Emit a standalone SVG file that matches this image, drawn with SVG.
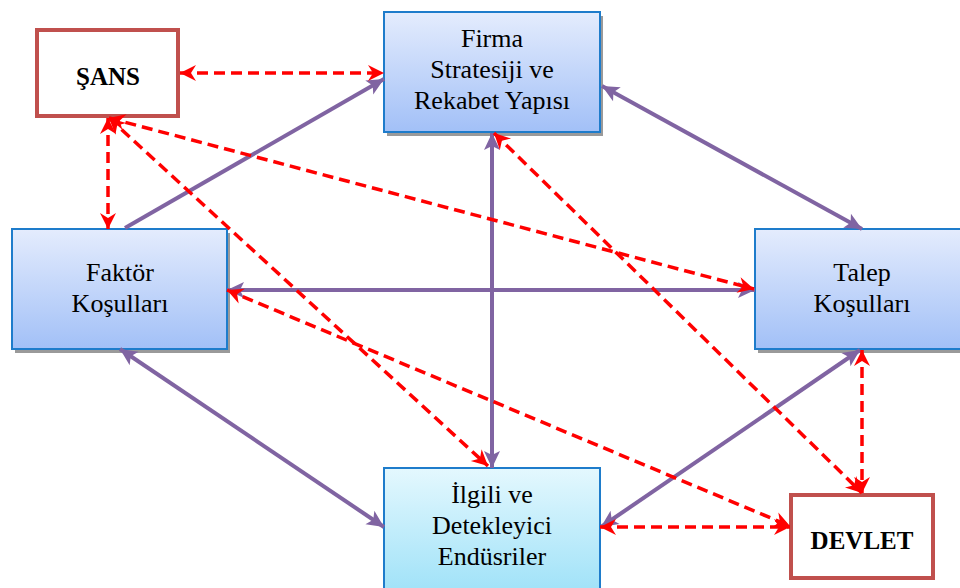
<svg xmlns="http://www.w3.org/2000/svg" width="960" height="588" viewBox="0 0 960 588">
<defs>
<linearGradient id="gBlue" x1="0" y1="0" x2="0" y2="1">
<stop offset="0" stop-color="#E4ECFD"/>
<stop offset="1" stop-color="#A2C0F7"/>
</linearGradient>
<linearGradient id="gCyan" x1="0" y1="0" x2="0" y2="1">
<stop offset="0" stop-color="#E4F8FE"/>
<stop offset="1" stop-color="#A0E2F8"/>
</linearGradient>
<marker id="mp" viewBox="-1 -9 20 18" refX="17" refY="0" markerWidth="20" markerHeight="18" markerUnits="userSpaceOnUse" orient="auto-start-reverse">
<path d="M0,-8 L17,0 L0,8 L4,0 Z" fill="#8064A2"/>
</marker>
<marker id="mr" viewBox="-1 -9 20 18" refX="16" refY="0" markerWidth="20" markerHeight="18" markerUnits="userSpaceOnUse" orient="auto-start-reverse">
<path d="M0,-8 L16,0 L0,8 L5,0 Z" fill="#FF0000"/>
</marker>
</defs>
<style>
.box{stroke:#1E7CCB;stroke-width:2}
.shadow{fill:#9A9A9A}
.red{fill:#FFFFFF;stroke:#C0504D;stroke-width:4}
.t{font-family:"Liberation Serif","Times New Roman",serif;font-size:26px;fill:#000;text-anchor:middle}
.b{font-weight:bold;font-size:25px}
.p{fill:none;stroke:#8064A2;stroke-width:4;marker-start:url(#mp);marker-end:url(#mp)}
.p1{fill:none;stroke:#8064A2;stroke-width:4;marker-end:url(#mp)}
.r{fill:none;stroke:#FF0000;stroke-width:3.5;stroke-dasharray:11 6;marker-start:url(#mr);marker-end:url(#mr)}
</style>
<rect width="960" height="588" fill="#FFFFFF"/>
<g id="firma">
<rect class="shadow" x="387" y="16" width="216" height="120"/>
<rect class="box" x="384" y="12" width="216" height="120" fill="url(#gBlue)"/>
<text class="t" x="492" y="47">Firma</text>
<text class="t" x="492" y="78">Stratesiji ve</text>
<text class="t" x="492" y="109">Rekabet Yapısı</text>
</g>
<g id="sans">
<rect class="red" x="37" y="30" width="141" height="86"/>
<text class="t b" x="108" y="85">ŞANS</text>
</g>
<g id="faktor">
<rect class="shadow" x="15" y="233" width="215" height="120"/>
<rect class="box" x="12" y="229" width="215" height="120" fill="url(#gBlue)"/>
<text class="t" x="120" y="281">Faktör</text>
<text class="t" x="120" y="312">Koşulları</text>
</g>
<g id="talep">
<rect class="shadow" x="758" y="233" width="215" height="120"/>
<rect class="box" x="755" y="229" width="215" height="120" fill="url(#gBlue)"/>
<text class="t" x="862" y="281">Talep</text>
<text class="t" x="862" y="312">Koşulları</text>
</g>
<g id="ilgili">
<rect class="box" x="384" y="468" width="216" height="124" fill="url(#gCyan)"/>
<text class="t" x="492" y="503">İlgili ve</text>
<text class="t" x="492" y="534">Detekleyici</text>
<text class="t" x="492" y="565">Endüsriler</text>
</g>
<g id="devlet">
<rect class="red" x="791" y="495" width="142" height="83"/>
<text class="t b" x="862" y="549">DEVLET</text>
</g>
<g id="connectors">
<path class="p1" d="M125,228 L384,79"/>
<path class="p" d="M602,86 L862,229"/>
<path class="p" d="M227,290 L755,290"/>
<path class="p" d="M492,133 L492,468"/>
<path class="p" d="M120,349 L384,527"/>
<path class="p" d="M860,350 L601,527"/>
<path class="r" d="M180,73 L384,73"/>
<path class="r" d="M108,118 L108,229"/>
<path class="r" d="M109,118 L754,289"/>
<path class="r" d="M109,118 L488,466"/>
<path class="r" d="M494,133 L862,493"/>
<path class="r" d="M227,290 L790,526"/>
<path class="r" d="M862,350 L862,493"/>
<path class="r" d="M600,527 L790,527"/>
</g>
</svg>
